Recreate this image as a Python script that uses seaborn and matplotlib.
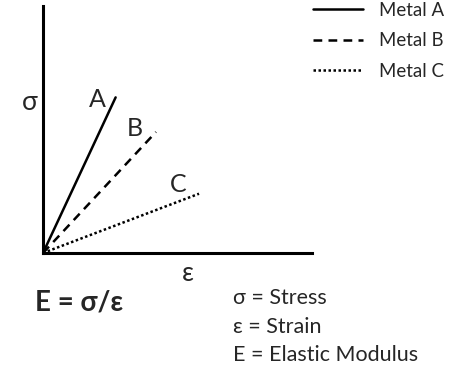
import pandas as pd
import matplotlib
matplotlib.use("Agg")
import matplotlib.pyplot as plt
import seaborn as sns

# end points of each line (start at origin)
metals = ['A', 'B', 'C']
strain_end = [0.27, 0.42, 0.58]
stress_end = [0.63, 0.49, 0.24]
legend_labels = ['Metal A', 'Metal B', 'Metal C']

rows = []
for m, x, y in zip(metals, strain_end, stress_end):
    rows.append({'metal': m, 'strain': 0.0, 'stress': 0.0})
    rows.append({'metal': m, 'strain': x, 'stress': y})
df = pd.DataFrame(rows)

sns.set_style('white')
plt.rcParams['font.family'] = ['Lato', 'Open Sans', 'DejaVu Sans']

W, H = 452, 368
fig = plt.figure(figsize=(W / 100, H / 100), dpi=100)
# origin at (43,253) px, x axis to 312, y axis to 6
ax = fig.add_axes([43 / W, (H - 253) / H, (312 - 43) / W, (253 - 6) / H])

sns.lineplot(data=df, x='strain', y='stress', style='metal',
             dashes={'A': '', 'B': (3.5, 2.5), 'C': (1, 1)},
             color='black', linewidth=1.8, legend=False, ax=ax, estimator=None)

ax.set_xlim(0, 1)
ax.set_ylim(0, 1)
ax.set_xticks([])
ax.set_yticks([])
ax.set_xlabel('')
ax.set_ylabel('')
for s in ['top', 'right']:
    ax.spines[s].set_visible(False)
for s in ['left', 'bottom']:
    ax.spines[s].set_color('black')
    ax.spines[s].set_linewidth(2.2)

# line labels
for m, x, y in zip(metals, [0.201, 0.342, 0.502], [0.623, 0.506, 0.279]):
    ax.text(x, y, m, fontsize=18, ha='center', va='center')

ax.text(-0.048, 0.611, 'σ', fontsize=19, ha='center', va='center', clip_on=False)
ax.text(0.539, -0.081, 'ε', fontsize=19, ha='center', va='center', clip_on=False)

handles = ax.get_lines()[:3]
fig.legend(handles, legend_labels, loc='upper left', bbox_to_anchor=(313 / W, 1 - 2 / H),
           frameon=False, fontsize=13.4, handlelength=2.7, handletextpad=0.86,
           labelspacing=0.72, borderpad=0, borderaxespad=0)

fig.text(35 / W, (H - 303) / H, 'E = σ/ε', fontsize=20, fontweight='bold', va='center')
fig.text(233 / W, (H - 298) / H, 'σ = Stress', fontsize=15.5, va='center')
fig.text(233 / W, (H - 327) / H, 'ε = Strain', fontsize=15.5, va='center')
fig.text(233 / W, (H - 355) / H, 'E = Elastic Modulus', fontsize=15.5, va='center')

fig.savefig('out.png', dpi=100)
